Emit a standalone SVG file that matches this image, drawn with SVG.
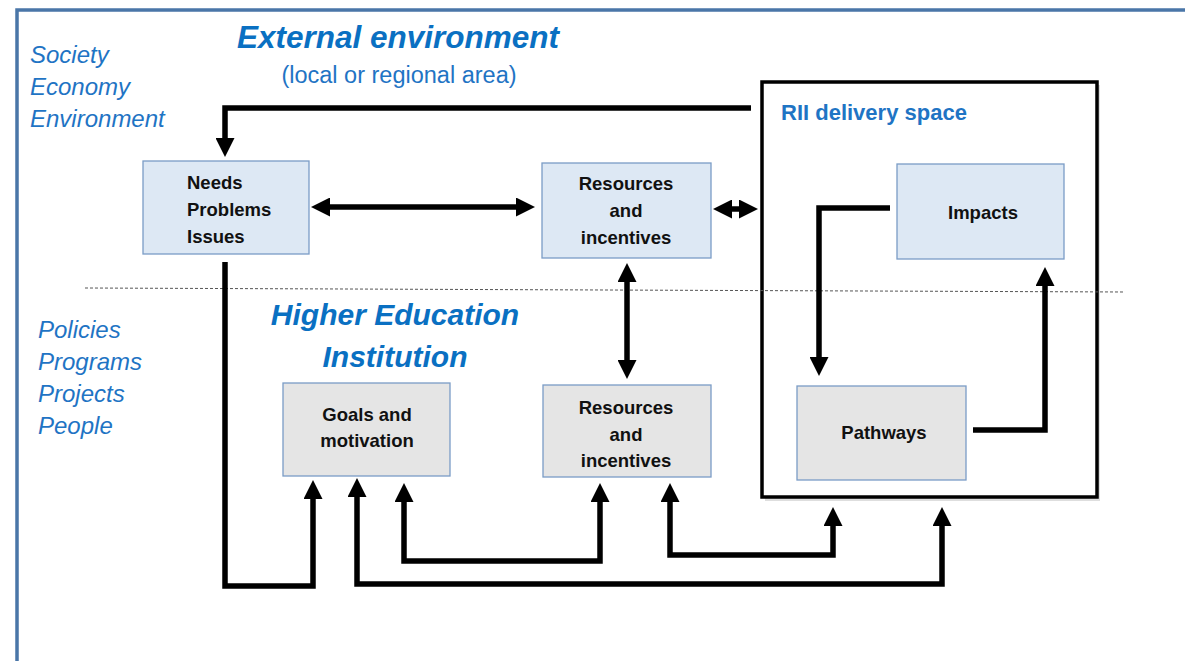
<svg xmlns="http://www.w3.org/2000/svg" width="1185" height="661" viewBox="0 0 1185 661">
<style>
.frame{fill:none;stroke:#4a76a8;stroke-width:3.5}
.blue{fill:#dde8f4;stroke:#7a9cc6;stroke-width:1.3}
.gray{fill:#e5e5e5;stroke:#7a9cc6;stroke-width:1.3}
.lbl{font-family:"Liberation Sans",Arial,sans-serif;font-weight:bold;font-size:18.5px;fill:#111}
.c{text-anchor:middle}
.side{font-family:"Liberation Sans",Arial,sans-serif;font-style:italic;font-size:24px;fill:#1f74c4}
.title{font-family:"Liberation Sans",Arial,sans-serif;font-style:italic;font-weight:bold;font-size:30px;fill:#0a70c2}
.conn path{fill:none;stroke:#000;stroke-width:5.5;stroke-linejoin:miter}
</style>
<defs>
<marker id="arr" markerUnits="userSpaceOnUse" markerWidth="19" markerHeight="19" viewBox="0 0 19 19" refX="9" refY="9.5" orient="auto-start-reverse">
<path d="M0,0 L19,9.5 L0,19 z" fill="#000"/>
</marker>
</defs>
<rect width="1185" height="661" fill="#fff"/>
<path class="frame" d="M17,661 V10 H1185"/>

<g id="titles">
<text class="title" x="398" y="48" text-anchor="middle" style="font-size:31.5px">External environment</text>
<text x="399" y="83" text-anchor="middle" font-family="Liberation Sans,Arial,sans-serif" font-size="23.5" fill="#1f74c4">(local or regional area)</text>
<text class="side" x="30" y="63">Society</text>
<text class="side" x="30" y="95">Economy</text>
<text class="side" x="30" y="127">Environment</text>
<text class="side" x="38" y="338">Policies</text>
<text class="side" x="38" y="370">Programs</text>
<text class="side" x="38" y="402">Projects</text>
<text class="side" x="38" y="434">People</text>
<text class="title" x="395" y="325" text-anchor="middle">Higher Education</text>
<text class="title" x="395" y="367" text-anchor="middle">Institution</text>
</g>

<g id="rii">
<rect x="765" y="85" width="335" height="416" fill="#c8c8c8" opacity="0.6"/>
<rect x="762" y="82" width="335" height="415" fill="#fff" stroke="#000" stroke-width="3.5"/>
<text x="781" y="120" font-family="Liberation Sans,Arial,sans-serif" font-weight="bold" font-size="22" fill="#1f74c4">RII delivery space</text>
</g>

<line x1="85" y1="288" x2="1125" y2="292" stroke="#555" stroke-width="1" stroke-dasharray="3,2"/>

<g id="needs">
<rect class="blue" x="143" y="161" width="166" height="93"/>
<text class="lbl" x="187" y="189">Needs</text>
<text class="lbl" x="187" y="216">Problems</text>
<text class="lbl" x="187" y="243">Issues</text>
</g>
<g id="resources-ext">
<rect class="blue" x="542" y="163" width="169" height="95"/>
<text class="lbl c" x="626" y="190">Resources</text>
<text class="lbl c" x="626" y="217">and</text>
<text class="lbl c" x="626" y="244">incentives</text>
</g>
<g id="impacts">
<rect class="blue" x="897" y="164" width="167" height="95"/>
<text class="lbl c" x="983" y="219">Impacts</text>
</g>
<g id="goals">
<rect class="gray" x="283" y="383" width="167" height="93"/>
<text class="lbl c" x="367" y="421">Goals and</text>
<text class="lbl c" x="367" y="447">motivation</text>
</g>
<g id="resources-hei">
<rect class="gray" x="543" y="385" width="168" height="92"/>
<text class="lbl c" x="626" y="414">Resources</text>
<text class="lbl c" x="626" y="441">and</text>
<text class="lbl c" x="626" y="467">incentives</text>
</g>
<g id="pathways">
<rect class="gray" x="797" y="386" width="169" height="94"/>
<text class="lbl c" x="884" y="439">Pathways</text>
</g>

<g id="connectors" class="conn">
<path d="M751,108 H225 V147" marker-end="url(#arr)"/>
<path d="M321,207 H525" marker-start="url(#arr)" marker-end="url(#arr)"/>
<path d="M723,209 H748" marker-start="url(#arr)" marker-end="url(#arr)"/>
<path d="M627,273 V369" marker-start="url(#arr)" marker-end="url(#arr)"/>
<path d="M890,208 H819 V366" marker-end="url(#arr)"/>
<path d="M973,430 H1045 V277" marker-end="url(#arr)"/>
<path d="M225,262 V586 H313 V490" marker-end="url(#arr)"/>
<path d="M357,488 V584 H942 V517" marker-start="url(#arr)" marker-end="url(#arr)"/>
<path d="M404,493 V561 H600 V493" marker-start="url(#arr)" marker-end="url(#arr)"/>
<path d="M670,493 V555 H833 V517" marker-start="url(#arr)" marker-end="url(#arr)"/>
</g>
</svg>
